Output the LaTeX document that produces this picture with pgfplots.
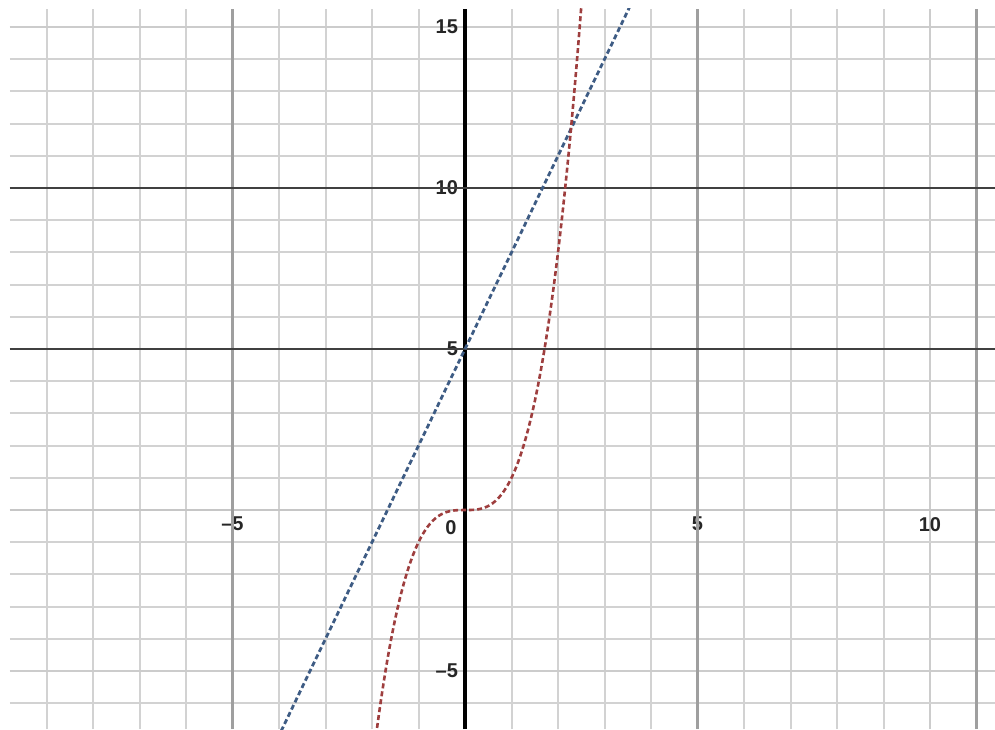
\documentclass[border=0pt]{standalone}
\usepackage{pgfplots}
\usepackage{pgfplotstable}
\pgfplotsset{compat=1.18}
\usepackage{fontspec}
\setmainfont{Liberation Sans}

\definecolor{lineblue}{RGB}{62,92,132}
\definecolor{curvered}{RGB}{158,62,62}

% points on the cubic curve
\pgfplotstableread{
x y
-2.0 -8.000
-1.9 -6.859
-1.8 -5.832
-1.7 -4.913
-1.6 -4.096
-1.5 -3.375
-1.4 -2.744
-1.3 -2.197
-1.2 -1.728
-1.1 -1.331
-1.0 -1.000
-0.9 -0.729
-0.8 -0.512
-0.7 -0.343
-0.6 -0.216
-0.5 -0.125
-0.4 -0.064
-0.3 -0.027
-0.2 -0.008
-0.1 -0.001
0.0 0.000
0.1 0.001
0.2 0.008
0.3 0.027
0.4 0.064
0.5 0.125
0.6 0.216
0.7 0.343
0.8 0.512
0.9 0.729
1.0 1.000
1.1 1.331
1.2 1.728
1.3 2.197
1.4 2.744
1.5 3.375
1.6 4.096
1.7 4.913
1.8 5.832
1.9 6.859
2.0 8.000
2.1 9.261
2.2 10.648
2.3 12.167
2.4 13.824
2.5 15.625
2.6 17.576
}\cubicdata

% the straight line
\pgfplotstableread{
x y
-5 -10
4 17
}\linedata

\begin{document}
\begin{tikzpicture}
\useasboundingbox (-5pt,0pt) rectangle (492.5pt,364.5pt);
\begin{axis}[
  at={(0pt,0pt)}, anchor=south west,
  scale only axis, width=492.5pt, height=360pt,
  xmin=-9.785, xmax=11.398, ymin=-6.80, ymax=15.56,
  axis lines=middle,
  axis line style={-},
  x axis line style={draw=gray!45, line width=1pt},
  y axis line style={draw=black, line width=1.8pt},
  xtick={-5,5,10}, xticklabels={\textendash5,5,10},
  ytick={-5,5,10,15}, yticklabels={\textendash5,5,10,15},
  minor xtick={-9,...,11}, minor ytick={-6,...,15},
  grid=both,
  minor grid style={draw=gray!35, line width=1pt},
  major grid style={draw=gray!40, line width=1pt},
  extra y ticks={5,10}, extra y tick labels={},
  extra y tick style={grid=major, major grid style={draw=black!75, line width=1.3pt}},
  extra x ticks={-5,5,11}, extra x tick labels={},
  extra x tick style={grid=major, major grid style={draw=gray!75, line width=1.1pt}},
  major tick length=0pt, minor tick length=0pt,
  tick style={draw=none},
  ticklabel style={font=\fontsize{10}{12}\selectfont\bfseries, text=black!85},
  clip=true,
]
\addplot[lineblue, line width=1.4pt, dash pattern=on 2.5pt off 1.5pt] table {\linedata};
\addplot[curvered, line width=1.3pt, dash pattern=on 2.5pt off 1.5pt, smooth] table {\cubicdata};
\node[anchor=north east, inner sep=0pt, xshift=-4pt, yshift=-5pt,
      font=\fontsize{10}{12}\selectfont\bfseries, text=black!85] at (axis cs:0,0) {0};
\end{axis}
\end{tikzpicture}
\end{document}
